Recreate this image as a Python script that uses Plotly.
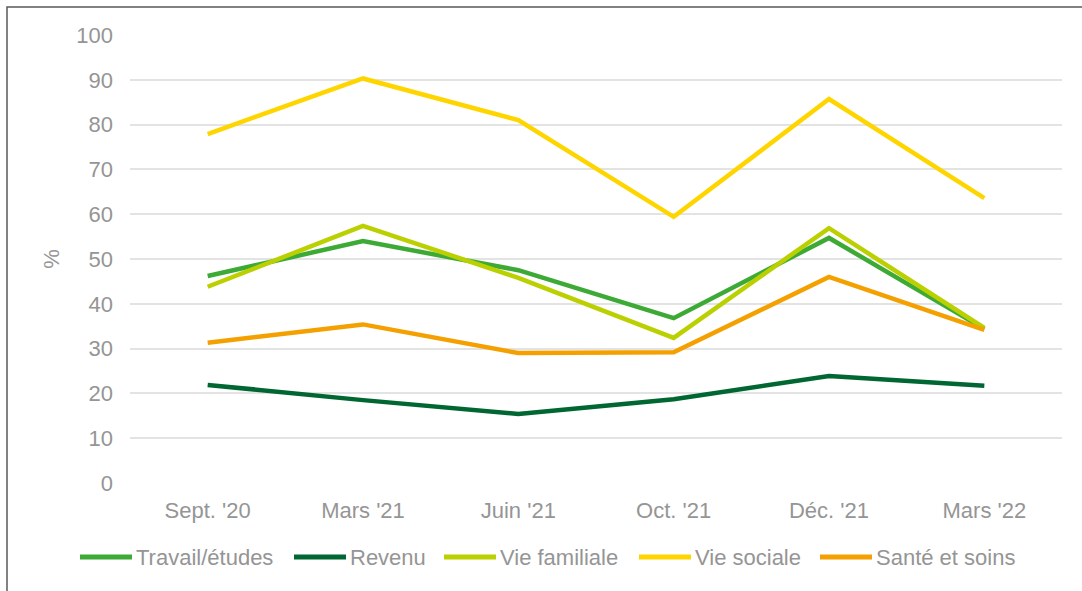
import plotly.graph_objects as go

# Survey waves
periods = ["Sept. '20", "Mars '21", "Juin '21", "Oct. '21", "Déc. '21", "Mars '22"]

# Share of respondents (%) by domain
travail_etudes = [46.2, 54.0, 47.5, 36.8, 54.7, 34.4]
revenu = [21.9, 18.5, 15.4, 18.7, 23.9, 21.7]
vie_familiale = [43.8, 57.4, 45.8, 32.4, 56.9, 34.6]
vie_sociale = [77.9, 90.3, 81.0, 59.4, 85.7, 63.6]
sante_soins = [31.3, 35.4, 29.0, 29.2, 46.0, 34.2]

y_ticks = [0, 10, 20, 30, 40, 50, 60, 70, 80, 90, 100]

series = [
    ("Travail/études", travail_etudes, "#3DAA35"),
    ("Revenu", revenu, "#006632"),
    ("Vie familiale", vie_familiale, "#BBD000"),
    ("Vie sociale", vie_sociale, "#FFD500"),
    ("Santé et soins", sante_soins, "#F4A000"),
]

gray = "#959595"
fs = 22

# Plot area in pixels (for placing the custom legend in paper units)
W, H = 1082, 591
ML, MR, MT, MB = 130, 20, 35, 108
PW, PH = W - ML - MR, H - MT - MB


def px_x(px):
    return (px - ML) / PW


def px_y(py):
    return (H - MB - py) / PH


# Legend swatch start positions (px) for each entry, swatch length and row height
legend_x = [80, 294, 444, 639, 820]
swatch_len = 52
legend_row = 557

fig = go.Figure()
shapes = []
annotations = []
for (name, vals, color), lx in zip(series, legend_x):
    fig.add_trace(go.Scatter(
        x=periods, y=vals, name=name, mode="lines",
        line=dict(color=color, width=4.5), showlegend=False,
    ))
    shapes.append(dict(type="line", xref="paper", yref="paper",
                       x0=px_x(lx), x1=px_x(lx + swatch_len),
                       y0=px_y(legend_row), y1=px_y(legend_row),
                       line=dict(color=color, width=5)))
    annotations.append(dict(text=name, xref="paper", yref="paper",
                            x=px_x(lx + swatch_len + 2), y=px_y(legend_row),
                            xanchor="left", yanchor="middle", showarrow=False,
                            font=dict(size=fs, color=gray)))

# Outer frame
shapes.append(dict(type="rect", xref="paper", yref="paper",
                   x0=px_x(7), x1=1.2, y0=-0.4, y1=px_y(7),
                   line=dict(color="#595959", width=1.5), fillcolor="rgba(0,0,0,0)",
                   layer="above"))

fig.update_layout(
    width=W, height=H,
    margin=dict(l=ML, r=MR, t=MT, b=MB),
    paper_bgcolor="white", plot_bgcolor="white",
    font=dict(family="Liberation Sans, Arial, sans-serif", size=fs, color=gray),
    showlegend=False,
    xaxis=dict(type="category", range=[-0.5, 5.5], showgrid=False, showline=False,
               ticks="", ticklabelstandoff=12, tickfont=dict(size=fs, color=gray)),
    yaxis=dict(range=[0, 100], tickvals=y_ticks, showgrid=True, gridcolor="#E3E3E3",
               gridwidth=1.5, zeroline=False, showline=False, ticks="",
               ticklabelstandoff=16,
               title=dict(text="%", font=dict(size=fs, color=gray), standoff=10),
               tickfont=dict(size=fs, color=gray)),
    shapes=shapes,
    annotations=annotations,
)

fig.write_html("out.html")
